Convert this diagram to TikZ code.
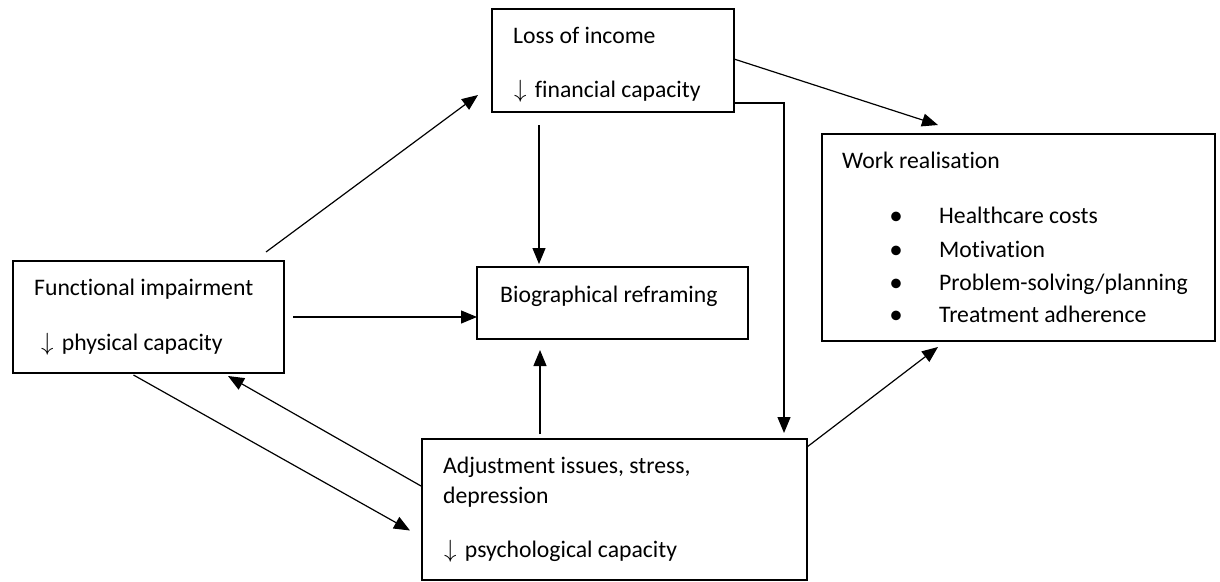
\documentclass[tikz,border=0pt]{standalone}
\usepackage{fontspec}
\setmainfont{Carlito}[RawFeature={-liga;-clig;-calt;-dlig}]
\usetikzlibrary{arrows.meta}
\newcommand{\dn}{$\downarrow$\hspace{0.35em}}
\begin{document}
\begin{tikzpicture}[x=1pt,y=-1pt,
  box/.style={draw,line width=1.6pt,rectangle,outer sep=0pt,inner sep=0pt},
  txt/.style={anchor=base west,inner sep=0pt,font=\fontsize{23.7}{28}\selectfont},
  bul/.style={anchor=base,inner sep=0pt,font=\fontsize{27}{28}\selectfont},
  conn/.style={line width=1.2pt,-{Triangle[length=16pt,width=13pt]}}]
\useasboundingbox (0,0) rectangle (1220,581);
% boxes
\node[box,minimum width=242pt,minimum height=103pt] (loss) at (613,60.5) {};
\node[box,minimum width=271pt,minimum height=112pt] (func) at (148.5,317) {};
\node[box,minimum width=271pt,minimum height=72pt] (bio) at (612.5,303) {};
\node[box,minimum width=393pt,minimum height=207pt] (work) at (1018.5,237.5) {};
\node[box,minimum width=385pt,minimum height=141pt] (adj) at (614.5,509.5) {};
% texts
\node[txt] (t1) at (513,43) {Loss of income};
\node[txt] (t2) at (514,97) {\dn financial capacity};
\node[txt] (t3) at (34,295) {Functional impairment};
\node[txt] (t4) at (41,350) {\dn physical capacity};
\node[txt] (t5) at (500,302) {Biographical reframing};
\node[txt] (t6) at (842,168) {Work realisation};
\node[bul] (b1) at (896,224) {•};
\node[bul] (b2) at (896,258) {•};
\node[bul] (b3) at (896,291) {•};
\node[bul] (b4) at (896,323) {•};
\node[txt] (w1) at (939,223) {Healthcare costs};
\node[txt] (w2) at (939,257) {Motivation};
\node[txt] (w3) at (939,290) {Problem-solving/planning};
\node[txt] (w4) at (939,322) {Treatment adherence};
\node[txt] (a1) at (443,473) {Adjustment issues, stress,};
\node[txt] (a2) at (443,503) {depression};
\node[txt] (a3) at (444,557) {\dn psychological capacity};
% connectors
\draw[conn] ([shift={(-18,-9)}]func.north east) -- ([shift={(-14,-17)}]loss.south west);
\draw[conn] ([shift={(0,-1.5)}]loss.east) -- ([shift={(116,-9)}]work.north west);
\draw[conn] ([shift={(0,-9)}]loss.south east) -| ([shift={(-23,-6)}]adj.north east);
\draw[conn] ([shift={(-74,13)}]loss.south) -- ([shift={(-73.5,-3)}]bio.north);
\draw[conn] ([shift={(9,0)}]func.east) -- ([shift={(0,14)}]bio.west);
\draw[conn] ([shift={(-74.5,-5)}]adj.north) -- ([shift={(-72.5,11)}]bio.south);
\draw[conn] ([shift={(0,8)}]adj.north east) -- ([shift={(116,6)}]work.south west);
\draw[conn] ([shift={(-15,2)}]func.south) -- ([shift={(-12,21)}]adj.west);
\draw[conn] ([shift={(-1,-23.5)}]adj.west) -- ([shift={(-56,3)}]func.south east);
\end{tikzpicture}
\end{document}
